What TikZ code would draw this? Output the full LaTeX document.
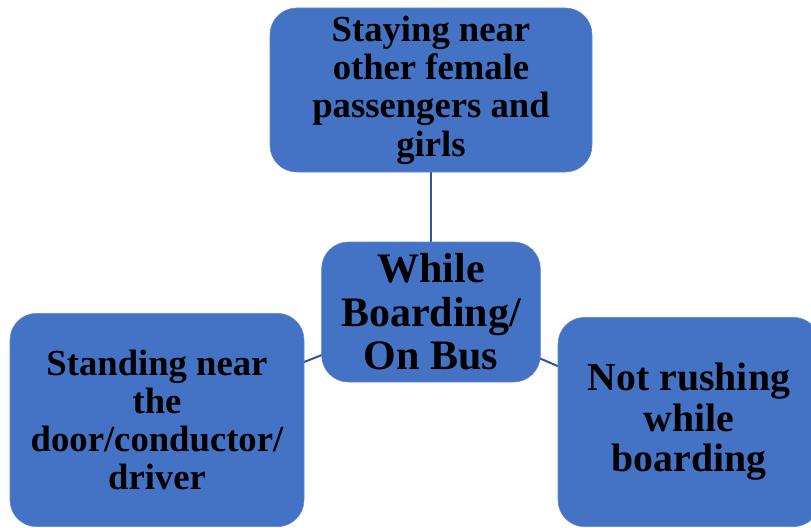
\documentclass[tikz,border=0pt]{standalone}
\usepackage{fontspec}
\setmainfont{Liberation Serif}
\usetikzlibrary{backgrounds}
\definecolor{boxblue}{HTML}{4472C4}
\definecolor{lineblue}{HTML}{2F5597}
\tikzset{
    leaf/.style={rectangle, rounded corners=20pt, fill=boxblue, draw=boxblue!85!white,
        align=center, inner sep=0pt, font=\bfseries\fontsize{27.5}{28.7}\selectfont},
    link/.style={draw=lineblue, line width=1.5pt}
}
\begin{document}
\begin{tikzpicture}[x=0.75pt,y=-0.75pt]
        \useasboundingbox (0,0) rectangle (811,528);
        \clip (0,0) rectangle (811,528);

        \node[leaf, minimum width=241.5pt, minimum height=123pt] (top) at (431,90)
            {Staying near\\other female\\passengers and\\girls};
        \node[leaf, minimum width=164pt, minimum height=105pt,
            font=\bfseries\fontsize{31.5}{32.6}\selectfont] (hub) at (431,312)
            {While\\Boarding/\\On Bus};
        \node[leaf, minimum width=220.5pt, minimum height=160pt] (left) at (157,420)
            {Standing near\\the\\door/conductor/\\driver};
        \node[leaf, minimum width=196.5pt, minimum height=157pt,
            font=\bfseries\fontsize{29.8}{30.4}\selectfont] (right) at (689,422)
            {Not rushing\\while\\boarding};

        \begin{scope}[on background layer]
            \foreach \n in {top,left,right}{
                \draw[link] (hub.center) -- (\n.center);
            }
        \end{scope}
    \end{tikzpicture}
\end{document}
